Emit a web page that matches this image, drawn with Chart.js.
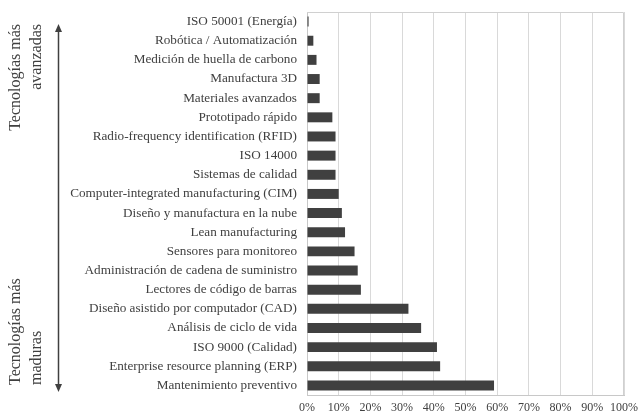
<!DOCTYPE html>
<html>
<head>
<meta charset="utf-8">
<script src="https://cdn.jsdelivr.net/npm/chart.js@4"></script>
<style>
  html, body { margin: 0; padding: 0; background: #ffffff; }
  #wrap { width: 639px; height: 415px; }
</style>
</head>
<body>
<div id="wrap"><canvas id="c" width="639" height="415"></canvas></div>
<script>
// Technologies, listed from most advanced (top) to most mature (bottom)
const technologies = [
  'ISO 50001 (Energía)',
  'Robótica / Automatización',
  'Medición de huella de carbono',
  'Manufactura 3D',
  'Materiales avanzados',
  'Prototipado rápido',
  'Radio-frequency identification (RFID)',
  'ISO 14000',
  'Sistemas de calidad',
  'Computer-integrated manufacturing (CIM)',
  'Diseño y manufactura en la nube',
  'Lean manufacturing',
  'Sensores para monitoreo',
  'Administración de cadena de suministro',
  'Lectores de código de barras',
  'Diseño asistido por computador (CAD)',
  'Análisis de ciclo de vida',
  'ISO 9000 (Calidad)',
  'Enterprise resource planning (ERP)',
  'Mantenimiento preventivo'
];

// Share of adoption, percent
const adoption = [0.5, 2, 3, 4, 4, 8, 9, 9, 9, 10, 11, 12, 15, 16, 17, 32, 36, 41, 42, 59];

// Percentage ticks on the value axis
const percentTicks = [0, 10, 20, 30, 40, 50, 60, 70, 80, 90, 100];

// Side annotation texts
const topNote = ['Tecnologías más', 'avanzadas'];
const bottomNote = ['Tecnologías más', 'maduras'];

const SERIF = '"Liberation Serif", "Times New Roman", serif';
const INK = '#404040';

// Frame around the plot area plus the vertical arrow with its notes
const sideNotes = {
  id: 'sideNotes',
  afterDraw(chart) {
    const ctx = chart.ctx;
    const a = chart.chartArea;
    ctx.save();
    // frame (top and right edges)
    ctx.strokeStyle = '#d0d0d0';
    ctx.lineWidth = 1;
    ctx.beginPath();
    ctx.moveTo(a.left, a.top + 0.5);
    ctx.lineTo(a.right - 0.5, a.top + 0.5);
    ctx.lineTo(a.right - 0.5, a.bottom);
    ctx.stroke();

    // double-headed arrow
    const ax = 58.5, y0 = 24, y1 = 392;
    ctx.strokeStyle = INK;
    ctx.fillStyle = INK;
    ctx.lineWidth = 1.5;
    ctx.beginPath();
    ctx.moveTo(ax, y0 + 6);
    ctx.lineTo(ax, y1 - 6);
    ctx.stroke();
    ctx.beginPath();
    ctx.moveTo(ax, y0);
    ctx.lineTo(ax - 3.5, y0 + 8);
    ctx.lineTo(ax + 3.5, y0 + 8);
    ctx.closePath();
    ctx.fill();
    ctx.beginPath();
    ctx.moveTo(ax, y1);
    ctx.lineTo(ax - 3.5, y1 - 8);
    ctx.lineTo(ax + 3.5, y1 - 8);
    ctx.closePath();
    ctx.fill();

    // rotated notes
    ctx.fillStyle = INK;
    ctx.font = '16px ' + SERIF;
    ctx.textBaseline = 'middle';
    const lineX = [16, 37];
    topNote.forEach((t, i) => {
      ctx.save();
      ctx.translate(lineX[i], 24);
      ctx.rotate(-Math.PI / 2);
      ctx.textAlign = 'right';
      ctx.fillText(t, 0, 0);
      ctx.restore();
    });
    bottomNote.forEach((t, i) => {
      ctx.save();
      ctx.translate(lineX[i], 385);
      ctx.rotate(-Math.PI / 2);
      ctx.textAlign = 'left';
      ctx.fillText(t, 0, 0);
      ctx.restore();
    });
    ctx.restore();
  }
};

new Chart(document.getElementById('c'), {
  type: 'bar',
  data: {
    labels: technologies,
    datasets: [{
      data: adoption,
      backgroundColor: INK,
      borderWidth: 0,
      barPercentage: 0.52,
      categoryPercentage: 1
    }]
  },
  options: {
    indexAxis: 'y',
    responsive: false,
    animation: false,
    devicePixelRatio: 1,
    layout: { padding: { top: 12, right: 15, left: 0, bottom: 0 } },
    plugins: {
      legend: { display: false },
      tooltip: { enabled: false }
    },
    scales: {
      x: {
        min: 0,
        max: 100,
        afterBuildTicks(scale) {
          scale.ticks = percentTicks.map(v => ({ value: v }));
        },
        afterFit(scale) {
          scale.height = 20;
          scale.paddingLeft = 0;
          scale.paddingRight = 0;
        },
        grid: { color: '#d9d9d9', drawTicks: false },
        border: { color: '#c8c8c8' },
        ticks: {
          padding: 6,
          color: INK,
          font: { family: SERIF, size: 12 },
          maxRotation: 0,
          callback: v => v + '%'
        }
      },
      y: {
        afterFit(scale) {
          scale.width = 307;
          scale.paddingTop = 0;
          scale.paddingBottom = 0;
        },
        grid: { display: false, drawTicks: false },
        border: { color: '#c8c8c8' },
        ticks: {
          padding: 10,
          color: INK,
          autoSkip: false,
          font: { family: SERIF, size: 13.2 }
        }
      }
    }
  },
  plugins: [sideNotes]
});
</script>
</body>
</html>
